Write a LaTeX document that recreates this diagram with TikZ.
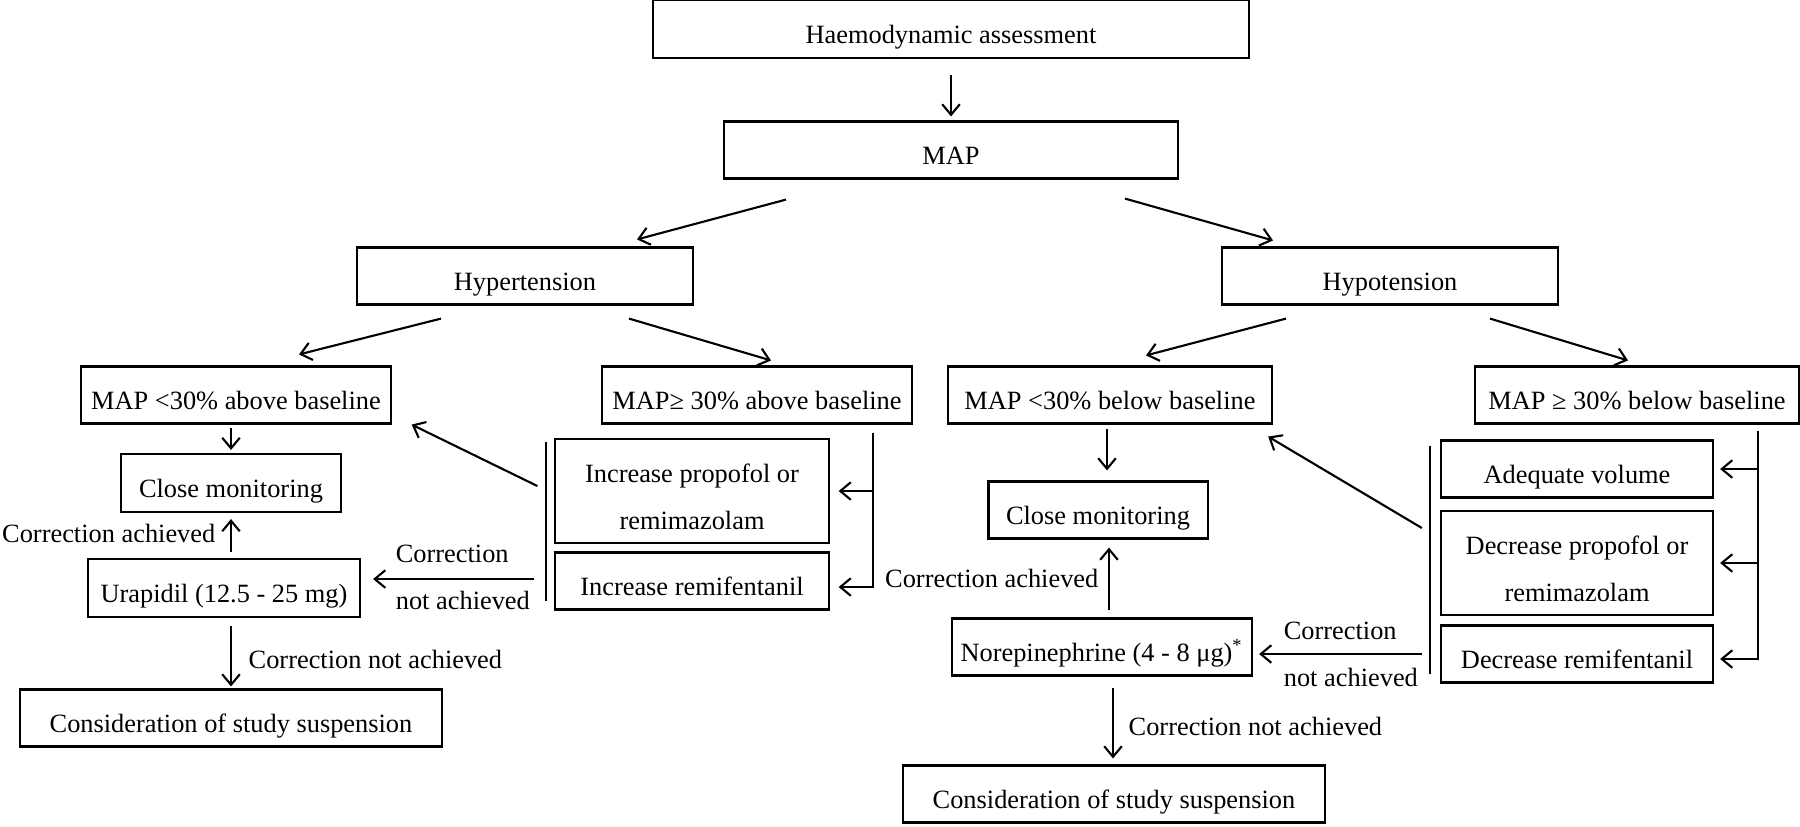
\documentclass[tikz,border=0pt]{standalone}
\usepackage{fontspec}
\setmainfont{Liberation Serif}
\usetikzlibrary{positioning,calc,arrows.meta}
\newcommand{\topgap}{\rule{0pt}{8.8pt}}

\begin{document}
\begin{tikzpicture}[x=0.01cm,y=-0.01cm,
  box/.style={draw,line width=0.6pt,inner sep=0pt,minimum height=0.57cm,text height=10.2pt,text depth=1.8pt},
  tallbox/.style={draw,line width=0.6pt,inner sep=0pt,minimum height=1.04cm,align=center},
  arr/.style={line width=0.6pt,-{Straight Barb[length=3pt,width=5pt]}},
  lbl/.style={inner sep=0pt,align=left},
  font=\fontsize{7.5}{13.3}\selectfont]
  \useasboundingbox (0,0) rectangle (1800,826);

  \node[box,minimum width=5.96cm,minimum height=0.58cm] (ha) at (951,29) {Haemodynamic assessment};
  \node[box,minimum width=4.53cm] (map) at (951,150) {MAP};
  \node[box,minimum width=3.36cm] (hyper) at (525,276) {Hypertension};
  \node[box,minimum width=3.36cm] (hypo) at (1390,276) {Hypotension};

  \node[box,minimum width=3.09cm] (lowhi) at (236,395) {MAP <30\% above baseline};
  \node[box,minimum width=3.09cm] (highhi) at (757,395) {MAP≥ 30\% above baseline};
  \node[box,minimum width=3.24cm] (lowlo) at (1110,395) {MAP <30\% below baseline};
  \node[box,minimum width=3.23cm] (highlo) at (1637,395) {MAP ≥ 30\% below baseline};

  % hypertension side
  \node[box,minimum width=2.19cm,minimum height=0.58cm] (monhi) at (231,483) {Close monitoring};
  \node[box,minimum width=2.72cm,minimum height=0.58cm] (urapidil) at (224,588) {Urapidil (12.5 - 25 mg)};
  \node[box,minimum width=4.22cm] (stophi) at (231,718) {Consideration of study suspension};
  \node[tallbox,minimum width=2.73cm] (incprop) at (692,491) {\topgap Increase propofol or\\remimazolam};
  \node[box,minimum width=2.73cm] (incremi) at (692,581) {Increase remifentanil};

  % hypotension side
  \node[box,minimum width=2.19cm] (monlo) at (1098,510) {Close monitoring};
  \node[box,minimum width=3.00cm] (norepi) at (1102,647) {Norepinephrine (4 - 8 μg)\textsuperscript{*}};
  \node[box,minimum width=4.22cm] (stoplo) at (1114,794) {Consideration of study suspension};
  \node[box,minimum width=2.72cm] (volume) at (1577,469) {Adequate volume};
  \node[tallbox,minimum width=2.72cm] (decprop) at (1577,563) {\topgap Decrease propofol or\\remimazolam};
  \node[box,minimum width=2.72cm] (decremi) at (1577,654) {Decrease remifentanil};

  % top of the tree
  \draw[arr] ($(ha.south)+(0,16)$) -- ($(map.north)+(0,-4)$);
  \draw[arr] ($(map.south)+(-165,20)$) -- ($(hyper.north)+(112,-7)$);
  \draw[arr] ($(map.south)+(174,19)$) -- ($(hypo.north)+(-117,-6)$);
  \draw[arr] ($(hyper.south)+(-84,13)$) -- ($(lowhi.north)+(63,-11)$);
  \draw[arr] ($(hyper.south)+(104,13)$) -- ($(highhi.north)+(14,-5)$);
  \draw[arr] ($(hypo.south)+(-104,13)$) -- ($(lowlo.north)+(36,-10)$);
  \draw[arr] ($(hypo.south)+(100,13)$) -- ($(highlo.north)+(-9,-5)$);

  % left branch
  \draw[arr] ($(lowhi.south -| monhi.north)+(0,3)$) -- ($(monhi.north)+(0,-3)$);
  \draw[arr] ($(urapidil.north -| monhi.south)+(0,-6)$) -- ($(monhi.south)+(0,6)$);
  \draw[arr] ($(urapidil.south -| stophi.north)+(0,8)$) -- ($(stophi.north)+(0,-2)$);
  \node[lbl,anchor=east] (okhi) at ($(monhi.south)+(-15,20)$) {Correction achieved};
  \node[lbl,anchor=west] (failhi) at ($(urapidil.south -| stophi.north)+(17,41)$) {Correction not achieved};

  \coordinate (brhi) at ($(highhi.south)+(116,8)$);
  \draw[arr] (brhi) |- ($(incremi.east)+(9,6)$);
  \draw[arr] (brhi |- incprop.east) -- ($(incprop.east)+(9,0)$);
  \draw[line width=0.6pt] ($(incprop.north west)+(-8,4)$) -- ($(incremi.south west)+(-8,-10)$);
  \draw[arr] ($(incprop.west)+(-17,-5)$) -- ($(lowhi.south east)+(20,0)$);
  \coordinate (fbhi) at ($(incremi.west)+(-20,-2)$);
  \draw[arr,shorten >=3.4pt] (fbhi) -- (fbhi -| urapidil.east);
  \node[lbl,anchor=west] (fbtxthi) at ($(urapidil.east)+(34,-11)$) {Correction\\not achieved};

  % right branch
  \draw[arr] ($(lowlo.south)+(-3,4)$) -- ($(lowlo.south |- monlo.north)+(-3,-10)$);
  \draw[arr] ($(norepi.north)+(7,-7)$) -- ($(monlo.south)+(11,8)$);
  \draw[arr] ($(norepi.south -| stoplo.north)+(-1,11)$) -- ($(stoplo.north)+(-1,-6)$);
  \node[lbl,anchor=east] (oklo) at ($(monlo.south)+(1,39)$) {Correction achieved};
  \node[lbl,anchor=west] (faillo) at ($(stoplo.north)+(14,-38)$) {Correction not achieved};

  \coordinate (brlo) at ($(highlo.south)+(121,6)$);
  \draw[arr] (brlo) |- ($(decremi.east)+(6,5)$);
  \draw[arr] (brlo |- volume.east) -- ($(volume.east)+(6,0)$);
  \draw[arr] (brlo |- decprop.east) -- ($(decprop.east)+(6,0)$);
  \draw[line width=0.6pt] ($(volume.north west)+(-10,7)$) -- ($(decremi.south west)+(-10,-10)$);
  \draw[arr] ($(decprop.west)+(-18,-35)$) -- ($(lowlo.south east)+(-5,12)$);
  \coordinate (fblo) at ($(decremi.west)+(-18,0)$);
  \draw[arr,shorten >=1.7pt] (fblo) -- (fblo -| norepi.east);
  \node[lbl,anchor=west] (fbtxtlo) at ($(norepi.east)+(30,7)$) {Correction\\not achieved};
\end{tikzpicture}
\end{document}
